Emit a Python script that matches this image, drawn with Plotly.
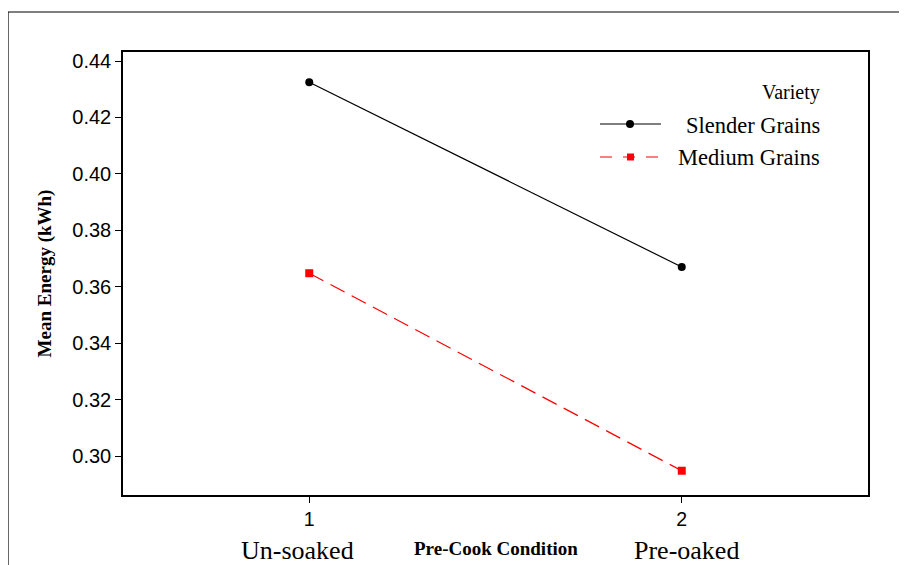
import plotly.graph_objects as go

conditions = [1, 2]
condition_labels = ["Un-soaked", "Pre-oaked"]
slender = [0.4325, 0.3670]
medium = [0.3648, 0.2948]
y_ticks = [0.30, 0.32, 0.34, 0.36, 0.38, 0.40, 0.42, 0.44]

fig = go.Figure()
fig.add_trace(go.Scatter(x=conditions, y=slender, mode="lines+markers", name="Slender Grains",
                         line=dict(color="black", width=1.2),
                         marker=dict(symbol="circle", size=8, color="black"), showlegend=False))
fig.add_trace(go.Scatter(x=conditions, y=medium, mode="lines+markers", name="Medium Grains",
                         line=dict(color="red", width=1.2, dash="16px,8px"),
                         marker=dict(symbol="square", size=8, color="red"), showlegend=False))

# page has an 8px body margin, so the figure is drawn 8px right/down
OFF = 8
L, R, T, B = 123 - OFF, 39, 52 - OFF, 70
W, H = 907 - OFF, 565 - OFF

fig.update_layout(
    width=W, height=H,
    margin=dict(l=L, r=R, t=T, b=B),
    paper_bgcolor="white", plot_bgcolor="white",
    xaxis=dict(range=[0.5, 2.5], tickvals=conditions, ticktext=[str(c) for c in conditions],
               showgrid=False, zeroline=False, showline=True, linecolor="black", linewidth=1.5,
               mirror=True, ticks="outside", ticklen=6, tickcolor="black",
               tickfont=dict(family="Liberation Sans, Arial", size=19.5, color="black")),
    yaxis=dict(range=[0.2862, 0.4432], tickvals=y_ticks, ticktext=[f"{v:.2f}" for v in y_ticks],
               showgrid=False, zeroline=False, showline=True, linecolor="black", linewidth=1.5,
               mirror=True, ticks="outside", ticklen=6, tickcolor="black",
               tickfont=dict(family="Liberation Sans, Arial", size=20, color="black"),
               title=dict(text="<b>Mean Energy (kWh)</b>", standoff=16,
                          font=dict(family="Liberation Serif, Times New Roman", size=19, color="black"))),
    font=dict(family="Liberation Serif", color="black"),
)

pw = 868 - 123
ph = 495 - 52
def px(x):
    return (x - 123) / pw
def py(y):
    return (495 - y) / ph

# x category labels under ticks (slightly offset from the ticks as in the reference)
label_shift = [-12, 5]
for c, lab, s in zip(conditions, condition_labels, label_shift):
    fig.add_annotation(x=c, y=py(550), xref="x", yref="paper", xshift=s, yanchor="middle", text=lab,
                       showarrow=False,
                       font=dict(family="Liberation Serif, Times New Roman", size=26, color="black"))
fig.add_annotation(x=px(496), y=py(548), xref="paper", yref="paper", yanchor="middle",
                   text="<b>Pre-Cook Condition</b>", showarrow=False,
                   font=dict(family="Liberation Serif, Times New Roman", size=19, color="black"))

# outer frame (top and left only visible)
fig.add_shape(type="line", xref="paper", yref="paper", x0=px(8), x1=px(920), y0=py(12), y1=py(12),
              line=dict(color="black", width=1.2))
fig.add_shape(type="line", xref="paper", yref="paper", x0=px(8), x1=px(8), y0=py(12), y1=py(580),
              line=dict(color="black", width=1.2))

# manual legend
fig.add_annotation(x=px(822), y=py(93), xref="paper", yref="paper", xanchor="right", yanchor="middle",
                   text="Variety", showarrow=False,
                   font=dict(family="Liberation Serif, Times New Roman", size=20, color="black"))
leg_font = dict(family="Liberation Serif, Times New Roman", size=22.5, color="black")
fig.add_annotation(x=px(822), y=py(125), xref="paper", yref="paper", xanchor="right", yanchor="middle",
                   text="Slender Grains", showarrow=False, font=leg_font)
fig.add_annotation(x=px(822), y=py(157), xref="paper", yref="paper", xanchor="right", yanchor="middle",
                   text="Medium Grains", showarrow=False, font=leg_font)
fig.add_shape(type="line", xref="paper", yref="paper", x0=px(600), x1=px(661), y0=py(124), y1=py(124),
              line=dict(color="black", width=1.2))
fig.add_shape(type="circle", xref="paper", yref="paper", x0=px(626), x1=px(634), y0=py(120), y1=py(128),
              fillcolor="black", line=dict(color="black", width=0))
fig.add_shape(type="line", xref="paper", yref="paper", x0=px(600), x1=px(661), y0=py(157), y1=py(157),
              line=dict(color="red", width=1.2, dash="12px,11px"))
fig.add_shape(type="rect", xref="paper", yref="paper", x0=px(627), x1=px(634), y0=py(153.5), y1=py(160.5),
              fillcolor="red", line=dict(color="red", width=0))

fig.write_html("out.html")
